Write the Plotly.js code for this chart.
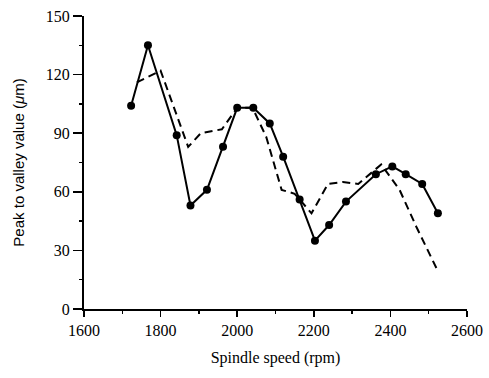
<!DOCTYPE html>
<html>
<head>
<meta charset="utf-8">
<script src="https://cdn.plot.ly/plotly-3.0.1.min.js"></script>
<style>html,body{margin:0;padding:0;background:#fff;}</style>
</head>
<body>
<div id="chart" style="width:489px;height:378px;"></div>
<script>
// Measured series (solid line with markers)
const speedMeasured = [1723, 1767, 1842, 1878, 1921, 1963, 2000, 2042, 2085, 2120, 2163, 2203, 2240, 2284, 2362, 2405, 2440, 2483, 2524];
const pvMeasured    = [104, 135, 89, 53, 61, 83, 103, 103, 95, 78, 56, 35, 43, 55, 69, 73, 69, 64, 49];

// Predicted series (dashed line)
const speedPredicted = [1738, 1800, 1872, 1905, 1960, 2000, 2040, 2076, 2116, 2150, 2194, 2237, 2276, 2316, 2376, 2424, 2468, 2520];
const pvPredicted    = [116, 122, 83, 90, 92, 103, 103, 88, 61, 59, 49, 64, 65, 64, 74, 61, 42, 21];

const xTicks = [1600, 1800, 2000, 2200, 2400, 2600];
const yTicks = [0, 30, 60, 90, 120, 150];

const traces = [
  {
    x: speedPredicted, y: pvPredicted, mode: 'lines', type: 'scatter',
    line: {color: '#000', width: 2, dash: '8px,5px'},
    showlegend: false, hoverinfo: 'skip'
  },
  {
    x: speedMeasured, y: pvMeasured, mode: 'lines+markers', type: 'scatter',
    line: {color: '#000', width: 2},
    marker: {color: '#000', size: 8, symbol: 'circle'},
    showlegend: false, hoverinfo: 'skip'
  }
];

const serif = 'Liberation Serif';

const layout = {
  width: 489, height: 378,
  margin: {l: 84, r: 22, t: 16, b: 69},
  paper_bgcolor: '#fff', plot_bgcolor: '#fff',
  showlegend: false,
  xaxis: {
    range: [1600, 2600],
    tickvals: xTicks, ticktext: xTicks.map(String),
    ticks: 'outside', ticklen: 6, tickwidth: 1.5, tickcolor: '#000',
    minor: {dtick: 100, ticks: 'outside', ticklen: 3, tickwidth: 1.5, tickcolor: '#000', showgrid: false},
    showline: true, linecolor: '#000', linewidth: 2,
    showgrid: false, zeroline: false,
    tickfont: {family: serif, size: 16, color: '#000'},
    title: {text: 'Spindle speed (rpm)', font: {family: serif, size: 16, color: '#000'}, standoff: 14}
  },
  yaxis: {
    range: [0, 150],
    tickvals: yTicks, ticktext: yTicks.map(String),
    ticks: 'outside', ticklen: 9, tickwidth: 1.5, tickcolor: '#000',
    minor: {dtick: 15, ticks: 'outside', ticklen: 3, tickwidth: 1.5, tickcolor: '#000', showgrid: false},
    showline: true, linecolor: '#000', linewidth: 2,
    showgrid: false, zeroline: false,
    tickfont: {family: serif, size: 16, color: '#000'},
    title: {text: 'Peak to valley value (<i>μ</i>m)', font: {family: 'Liberation Sans', size: 15, color: '#000'}, standoff: 18}
  }
};

Plotly.newPlot('chart', traces, layout, {staticPlot: true, displayModeBar: false});
</script>
</body>
</html>
